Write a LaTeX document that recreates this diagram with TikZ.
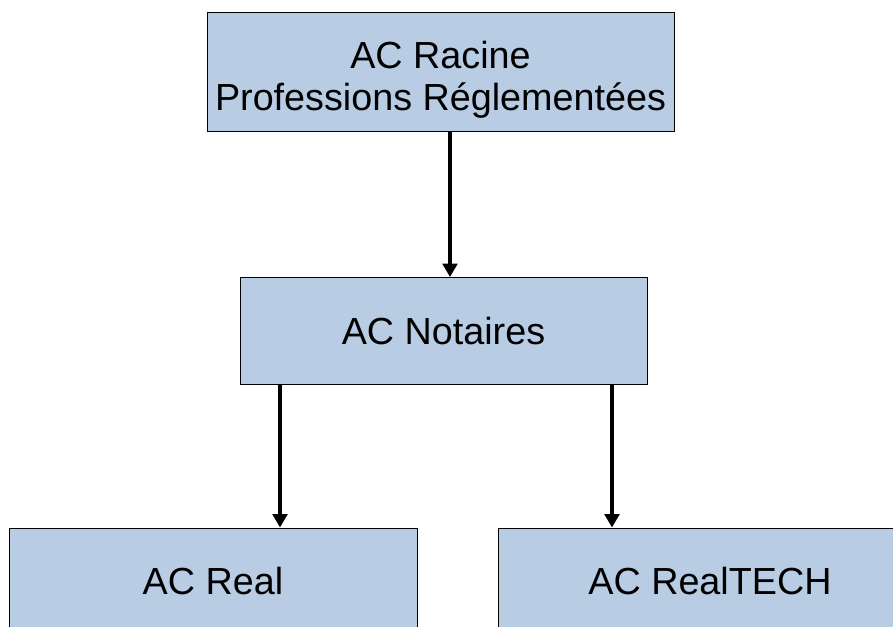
\documentclass[tikz,border=0pt]{standalone}
\usepackage{fontspec}
\setmainfont{Liberation Sans}
\usetikzlibrary{arrows.meta}

\definecolor{bleuac}{HTML}{B8CCE4}
\tikzset{
  ac/.style={draw=black,line width=0.75pt,fill=bleuac,inner sep=0pt,
    align=center,font=\fontsize{28.3}{31.5}\selectfont},
  fleche/.style={line width=2.3pt,-{Triangle[length=10pt,width=11pt]}}
}

\begin{document}
\begin{tikzpicture}[x=0.75pt,y=-0.75pt]
        \useasboundingbox (0,0) rectangle (893,627) ;
        \clip (0,0) rectangle (893,627) ;
        %\draw[very thin,gray,step=50] (0,0) grid (893,627) ;
        \node[ac,minimum width=350.25pt,minimum height=89.25pt] (root)
        at (440.5,72.5) {\rule{0pt}{31pt}AC Racine\\Professions Réglementées} ;
        \node[ac,minimum width=305.25pt,minimum height=80.25pt] (notaires)
        at (443.5,331) {AC Notaires} ;
        \node[ac,minimum width=306pt,minimum height=80.25pt] (real)
        at (213,581.5) {AC Real} ;
        \node[ac,minimum width=318pt,minimum height=80.25pt] (realtech)
        at (710,581.5) {AC RealTECH} ;
        \draw[fleche] (root.south -| 450,0) -- (notaires.north -| 450,0) ;
        \draw[fleche] (notaires.south -| 280,0) -- (real.north -| 280,0) ;
        \draw[fleche] (notaires.south -| 612,0) -- (realtech.north -| 612,0) ;
      \end{tikzpicture}
\end{document}
